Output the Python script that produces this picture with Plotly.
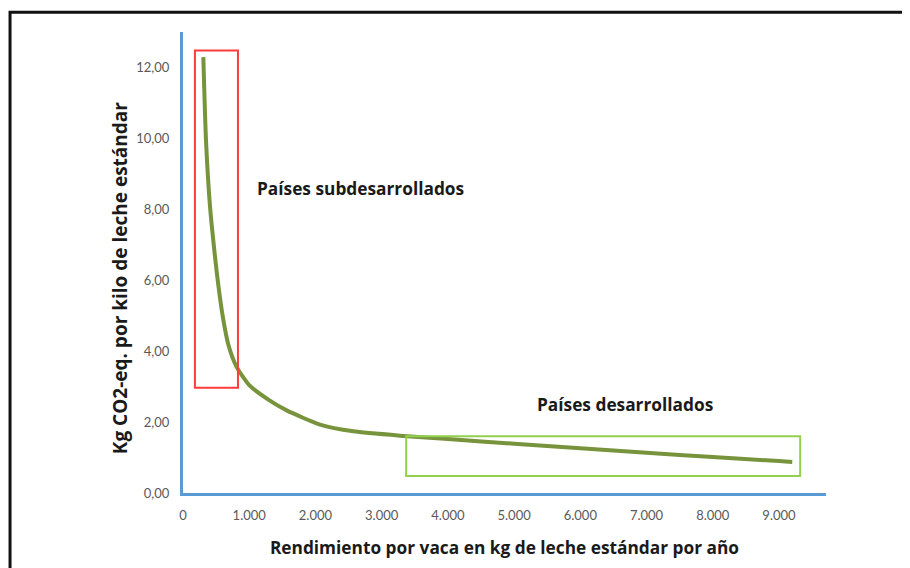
import plotly.graph_objects as go

# Data
rendimiento = [307, 347, 408, 490, 534, 600, 685, 811, 1012, 1300, 1566, 2069, 2573, 3328,
               4000, 5000, 6000, 7000, 8000, 9000, 9200]
co2_eq = [12.29, 9.95, 8.08, 6.55, 5.85, 4.98, 4.18, 3.55, 3.02, 2.62, 2.33, 1.93, 1.74, 1.61,
          1.52, 1.39, 1.26, 1.135, 1.015, 0.90, 0.877]

x_tickvals = [0, 1000, 2000, 3000, 4000, 5000, 6000, 7000, 8000, 9000]
x_ticktext = ["0", "1.000", "2.000", "3.000", "4.000", "5.000", "6.000", "7.000", "8.000", "9.000"]
y_tickvals = [0, 2, 4, 6, 8, 10, 12]
y_ticktext = ["0,00", "2,00", "4,00", "6,00", "8,00", "10,00", "12,00"]

subdesarrollados_box = {"x0": 180, "x1": 830, "y0": 2.97, "y1": 12.48}
desarrollados_box = {"x0": 3370, "x1": 9320, "y0": 0.48, "y1": 1.60}

TICK_FONT = "Lato, Carlito, Calibri, sans-serif"
BOLD_FONT = "Open Sans, sans-serif"

fig = go.Figure()
fig.add_trace(go.Scatter(
    x=rendimiento, y=co2_eq, mode="lines",
    line=dict(color="#77933c", width=4, shape="spline", smoothing=0.6),
    hoverinfo="x+y", showlegend=False,
))

fig.add_shape(type="rect", xref="x", yref="y", **subdesarrollados_box,
              line=dict(color="#ff3b3b", width=2), fillcolor="rgba(0,0,0,0)")
fig.add_shape(type="rect", xref="x", yref="y", **desarrollados_box,
              line=dict(color="#92d050", width=2), fillcolor="rgba(0,0,0,0)")

# outer frame (top and left edges)
fig.add_shape(type="path", xref="paper", yref="paper",
              path="M -0.269,-0.3 L -0.269,1.0431 L 1.3,1.0431",
              line=dict(color="#111111", width=3))

fig.add_annotation(x=1090, y=8.6, xref="x", yref="y", text="<b>Países subdesarrollados</b>",
                   showarrow=False, xanchor="left", yanchor="middle",
                   font=dict(family=BOLD_FONT, size=17.3, color="#1a1a1a"))
fig.add_annotation(x=5310, y=2.5, xref="x", yref="y", text="<b>Países desarrollados</b>",
                   showarrow=False, xanchor="left", yanchor="middle",
                   font=dict(family=BOLD_FONT, size=17.3, color="#1a1a1a"))

# y-axis title (placed as annotation to match the reference position)
fig.add_annotation(x=-0.098, y=0.468, xref="paper", yref="paper",
                   text="<b>Kg CO2-eq. por kilo de leche estándar</b>", textangle=-90,
                   showarrow=False, xanchor="center", yanchor="middle",
                   font=dict(family=BOLD_FONT, size=19, color="#1a1a1a"))

fig.update_layout(
    width=902, height=560,
    margin=dict(l=175, r=84, t=24, b=72),
    paper_bgcolor="white", plot_bgcolor="white",
    font=dict(family=TICK_FONT, color="#595959"),
    xaxis=dict(
        range=[0, 9710], showgrid=False, zeroline=False,
        showline=True, linecolor="#5b9bd5", linewidth=3,
        tickvals=x_tickvals, ticktext=x_ticktext,
        ticks="outside", ticklen=8, tickcolor="rgba(0,0,0,0)",
        tickfont=dict(family=TICK_FONT, size=13, color="#595959"),
        title=dict(text="<b>Rendimiento por vaca en kg de leche estándar por año</b>",
                   font=dict(family=BOLD_FONT, size=17.3, color="#1a1a1a"), standoff=21),
    ),
    yaxis=dict(
        range=[0, 13], showgrid=False, zeroline=False,
        showline=True, linecolor="#5b9bd5", linewidth=3,
        tickvals=y_tickvals, ticktext=y_ticktext,
        ticks="outside", ticklen=8, tickcolor="rgba(0,0,0,0)",
        tickfont=dict(family=TICK_FONT, size=13, color="#595959"),
    ),
)

fig.write_html("out.html")
